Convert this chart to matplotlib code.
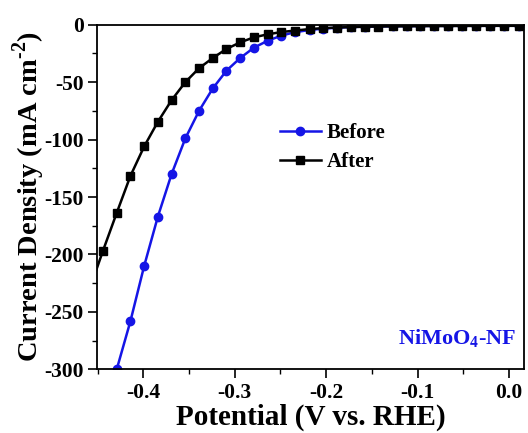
import matplotlib
matplotlib.use("Agg")
import matplotlib.pyplot as plt
from matplotlib.ticker import MultipleLocator

plt.rcParams['font.family'] = ['Liberation Serif', 'DejaVu Serif']
plt.rcParams['font.weight'] = 'bold'
plt.rcParams['mathtext.fontset'] = 'custom'
plt.rcParams['mathtext.rm'] = 'Liberation Serif:bold'
plt.rcParams['mathtext.bf'] = 'Liberation Serif:bold'

potential = [-0.459, -0.444, -0.429, -0.414, -0.399, -0.384, -0.369, -0.354, -0.339,
             -0.324, -0.309, -0.294, -0.279, -0.264, -0.249, -0.234, -0.218, -0.203,
             -0.188, -0.173, -0.158, -0.143, -0.127, -0.112, -0.097, -0.082, -0.067,
             -0.052, -0.036, -0.021, -0.006, 0.011]
before = [-390, -345, -300, -258, -210, -167, -130, -99, -75, -55.5, -40, -29, -20,
          -14, -9.5, -6.5, -4.6, -3.4, -2.6, -2.0, -1.7, -1.5, -1.3, -1.2, -1.1, -1.0,
          -1.0, -0.9, -0.9, -0.8, -0.8, -0.8]
after = [-231, -196.7, -163.8, -131.6, -106, -84.5, -65.7, -50, -37.9, -29, -21.1,
         -15.4, -11, -8.4, -6.4, -5.1, -3.8, -3.0, -2.5, -2.1, -1.8, -1.6, -1.5, -1.4,
         -1.3, -1.2, -1.2, -1.1, -1.1, -1.0, -1.0, -1.0]
xticks = [-0.4, -0.3, -0.2, -0.1, 0.0]
xticklabels = ['-0.4', '-0.3', '-0.2', '-0.1', '0.0']
yticks = [0, -50, -100, -150, -200, -250, -300]
yticklabels = ['0', '-50', '-100', '-150', '-200', '-250', '-300']

fig = plt.figure(figsize=(5.28, 4.33), dpi=100)
ax = fig.add_axes([0.184, 0.147, 0.808, 0.796])

ax.plot(potential, before, '-o', color='#1515e6', lw=1.8, ms=6, label='Before', zorder=2)
ax.plot(potential, after, '-s', color='black', lw=1.8, ms=5.5, label='After', zorder=3)

ax.set_xlim(-0.4504, 0.016)
ax.set_ylim(-300, 0)
ax.xaxis.set_minor_locator(MultipleLocator(0.05))
ax.yaxis.set_minor_locator(MultipleLocator(25))
ax.set_xticks(xticks)
ax.set_xticklabels(xticklabels)
ax.set_yticks(yticks)
ax.set_yticklabels(yticklabels)

ax.tick_params(axis='both', which='major', direction='out', length=6.5, width=1.2,
               labelsize=15.5, top=False, right=False)
ax.tick_params(axis='y', which='major', pad=3)
ax.tick_params(axis='both', which='minor', direction='out', length=3.5, width=1.0,
               top=False, right=False)
for lbl in ax.get_xticklabels() + ax.get_yticklabels():
    lbl.set_fontweight('bold')
for s in ax.spines.values():
    s.set_linewidth(1.3)

ax.set_xlabel('Potential (V vs. RHE)', fontsize=21, fontweight='bold', labelpad=0)
ax.set_ylabel(r'Current Density (mA cm$^{\text{-2}}$)', fontsize=20.5, fontweight='bold',
              labelpad=-2)

leg = ax.legend(loc='upper left', bbox_to_anchor=(0.408, 0.739), frameon=False,
                prop={'size': 15, 'weight': 'bold'}, handlelength=2.0,
                handletextpad=0.25, labelspacing=0.45, borderaxespad=0)

ax.text(0.982, 0.071, r'NiMoO$_4$-NF', transform=ax.transAxes, color='#1515e6',
        fontsize=16, fontweight='bold', ha='right', va='baseline')

fig.savefig('out.png', dpi=100)
